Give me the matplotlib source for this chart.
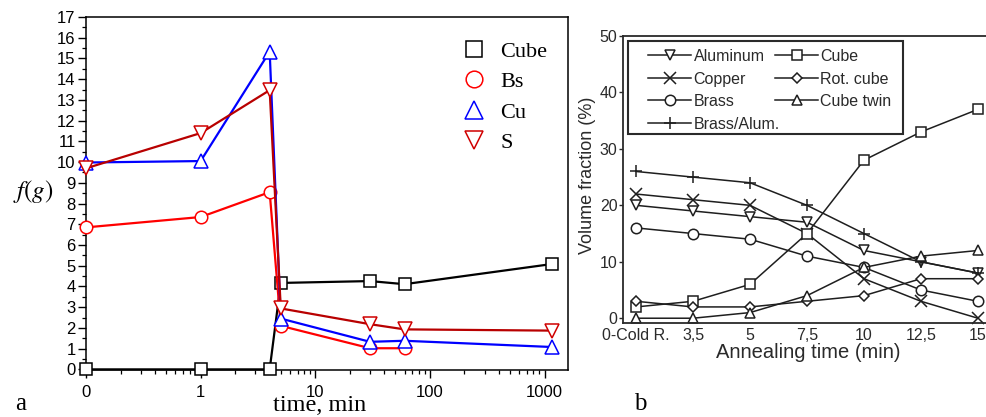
import matplotlib
matplotlib.use('Agg')
import matplotlib.pyplot as plt
from matplotlib.lines import Line2D
from matplotlib.patches import Rectangle
from matplotlib.ticker import FixedLocator, FixedFormatter, LogLocator, NullFormatter, MultipleLocator

plt.rcParams['mathtext.fontset'] = 'stix'

# ---------------- Panel a data ----------------
time_a = [0, 1, 4, 5, 30, 60, 1150]
cube_a = [0.0, 0.0, 0.0, 4.17, 4.26, 4.11, 5.08]
bs_a = [6.85, 7.35, 8.55, 2.1, 1.02, 1.02]
cu_a = [9.98, 10.05, 15.33, 2.45, 1.33, 1.38, 1.08]
s_a = [9.7, 11.4, 13.47, 2.94, 2.18, 1.93, 1.87]
labels_a = ['Cube', 'Bs', 'Cu', 'S']
xtick_vals_a = [0, 1, 10, 100, 1000]
xtick_labels_a = ['0', '1', '10', '100', '1000']
ZERO_AT = 0.1  # "0" is drawn one decade below 1 on the log axis

# ---------------- Panel b data ----------------
cats_b = ['0-Cold R.', '3,5', '5', '7,5', '10', '12,5', '15']
aluminum = [20, 19, 18, 17, 12, 10, 8]
copper = [22, 21, 20, 15, 7, 3, 0]
brass = [16, 15, 14, 11, 9, 5, 3]
brass_alum = [26, 25, 24, 20, 15, 10, 8]
cube_b = [2, 3, 6, 15, 28, 33, 37]
rot_cube = [3, 2, 2, 3, 4, 7, 7]
cube_twin = [0, 0, 1, 4, 9, 11, 12]
labels_b = ['Aluminum', 'Copper', 'Brass', 'Brass/Alum.', 'Cube', 'Rot. cube', 'Cube twin']

W, H = 986, 417
fig = plt.figure(figsize=(W / 100, H / 100), dpi=100)

def fx(px):
    return px / W

def fy(py):
    return 1 - py / H

# ---------------- Panel a ----------------
ax = fig.add_axes([fx(86), fy(370), fx(568) - fx(86), fy(17) - fy(370)])
ax.set_xscale('log')
ax.set_xlim(0.1, 1600)
ax.set_ylim(-0.03, 17)

def mapx(ts):
    return [t if t > 0 else ZERO_AT for t in ts]

series_a = [
    (cube_a, 's', '#000000', '#000000', 8.5, 11),
    (bs_a, 'o', '#ff0000', '#ff0000', 9, 12),
    (cu_a, '^', '#0000ff', '#0000ff', 10, 13),
    (s_a, 'v', '#b80000', '#d00000', 10, 13),
]
for i, (vals, mk, lc, mc, ms, _) in enumerate(series_a):
    xs = mapx(time_a[:len(vals)])
    ax.plot(xs, vals, color=lc, lw=1.6, marker=mk, ms=ms, mfc='white', mec=mc,
            mew=1.1, clip_on=False, zorder=3 + i)

xt = [t if t > 0 else ZERO_AT for t in xtick_vals_a]
ax.xaxis.set_major_locator(FixedLocator(xt))
ax.xaxis.set_major_formatter(FixedFormatter(xtick_labels_a))
ax.xaxis.set_minor_locator(LogLocator(base=10, subs=range(2, 10), numticks=20))
ax.xaxis.set_minor_formatter(NullFormatter())
ax.yaxis.set_major_locator(MultipleLocator(1))
ax.yaxis.set_minor_locator(MultipleLocator(0.5))
ax.tick_params(axis='both', which='major', direction='out', length=5.5, width=1.0,
               labelsize=12, pad=2)
ax.tick_params(axis='both', which='minor', direction='out', length=3, width=0.9)
ax.tick_params(axis='x', which='major', pad=5.5)
for lab in ax.get_xticklabels() + ax.get_yticklabels():
    lab.set_fontfamily('Liberation Sans')
for sp in ax.spines.values():
    sp.set_linewidth(1.1)

handles_a = [Line2D([], [], ls='none', marker=mk, ms=lms, mfc='none', mec=mc, mew=1.1)
             for (_, mk, lc, mc, ms, lms) in series_a]
leg = fig.legend(handles_a, labels_a, loc='upper left', bbox_to_anchor=(fx(463), fy(41)),
                 bbox_transform=fig.transFigure, frameon=False, borderpad=0, borderaxespad=0,
                 handlelength=1.0, handletextpad=0.67, labelspacing=0.45,
                 prop={'family': 'Liberation Serif', 'size': 16})

fig.text(fx(33), fy(191), r'$f(g)$', fontsize=18, ha='center', va='center')
fig.text(fx(320), fy(411), 'time, min', fontsize=17.5, ha='center', va='baseline',
         family='Liberation Serif')
fig.text(fx(21), fy(404), 'a', fontsize=18, ha='center', va='center', family='Liberation Serif')
fig.text(fx(640), fy(404), 'b', fontsize=18, ha='center', va='center', family='Liberation Serif')

# ---------------- Panel b ----------------
bx = fig.add_axes([fx(623), fy(323.3), fx(991) - fx(623), fy(36) - fy(323.3)])
bx.set_xlim(-0.23, 6.23)
bx.set_ylim(-0.9, 50)
xs_b = list(range(len(cats_b)))
lc = '#1e1e1e'
series_b = [
    (aluminum, 'v', 7.5),
    (copper, 'x', 8),
    (brass, 'o', 7.5),
    (brass_alum, '+', 8.5),
    (cube_b, 's', 6.5),
    (rot_cube, 'D', 5.5),
    (cube_twin, '^', 7.5),
]
for vals, mk, ms in series_b:
    bx.plot(xs_b, vals, color=lc, lw=1.1, marker=mk, ms=ms, mfc='white', mec=lc,
            mew=1.1, clip_on=False)
bx.set_xticks(xs_b)
bx.set_xticklabels(cats_b)
bx.set_yticks([0, 10, 20, 30, 40, 50])
bx.tick_params(axis='x', length=0, pad=3.5, labelsize=11.5, labelcolor='#2a2a2a')
bx.tick_params(axis='y', direction='out', length=3, width=1.0, pad=1, labelsize=11.5,
               labelcolor='#2a2a2a', color='#2a2a2a')
for lab in bx.get_xticklabels() + bx.get_yticklabels():
    lab.set_fontfamily('Liberation Sans')
bx.spines['right'].set_visible(False)
for s in ['left', 'bottom', 'top']:
    bx.spines[s].set_linewidth(1.3)
    bx.spines[s].set_color('#2a2a2a')

fig.text(fx(588), fy(175), 'Volume fraction (%)', rotation=90, fontsize=13,
         ha='center', va='center', family='Liberation Sans', color='#2a2a2a')
fig.text(fx(808), fy(352), 'Annealing time (min)', fontsize=14.5,
         ha='center', va='center', family='Liberation Sans', color='#2a2a2a')

handles_b = [Line2D([], [], color=lc, lw=1.1, marker=mk, ms=ms, mfc='white', mec=lc, mew=1.1)
             for (_, mk, ms) in series_b]
fig.legend(handles_b, labels_b, ncol=2, loc='upper left', bbox_to_anchor=(fx(648), fy(49)),
           bbox_transform=fig.transFigure, frameon=False, borderpad=0, borderaxespad=0,
           handlelength=2.7, handletextpad=0.15, labelspacing=0.47, columnspacing=-0.3,
           prop={'family': 'Liberation Sans', 'size': 11.5}, labelcolor='#2a2a2a')
fig.patches.append(Rectangle((fx(628), fy(134)), fx(903) - fx(628), fy(41) - fy(134),
                             transform=fig.transFigure, fill=False, lw=1.5,
                             edgecolor='#2a2a2a', zorder=10))

fig.savefig('out.png', dpi=100)
